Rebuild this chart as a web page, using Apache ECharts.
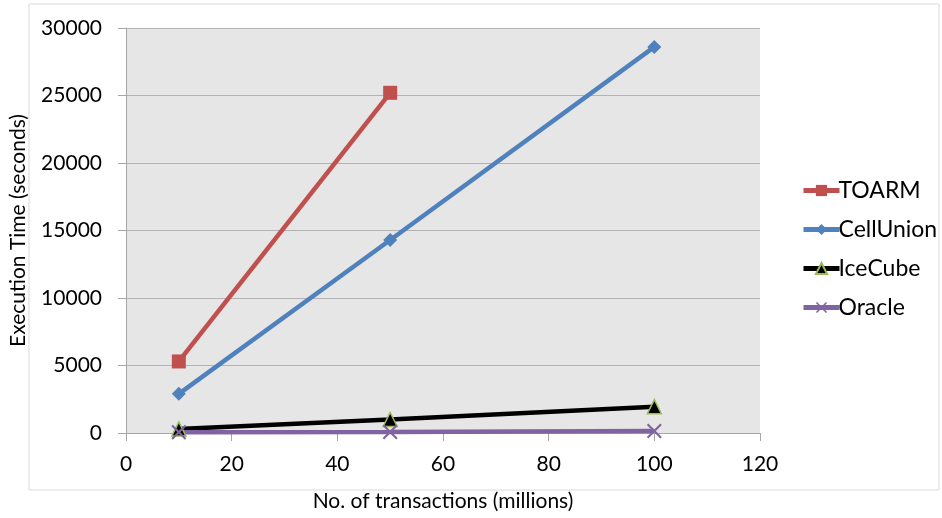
<!DOCTYPE html>
<html><head><meta charset="utf-8">
<script src="https://cdn.jsdelivr.net/npm/echarts@6/dist/echarts.min.js"></script>
<style>html,body{margin:0;padding:0;background:#fff}#c{width:942px;height:518px}</style>
</head><body><div id="c"></div>
<script>
const xValues = [10, 50, 100];
const toarm = [5300, 25200];
const cellUnion = [2900, 14300, 28600];
const iceCube = [300, 1000, 1950];
const oracle = [50, 80, 150];
const seriesNames = ['TOARM', 'CellUnion', 'IceCube', 'Oracle'];

const pairs = (vals) => vals.map((v, i) => [xValues[i], v]);
const font = 'Lato, "Open Sans", sans-serif';
const crossPath = 'path://M0,1L1,0L5,4L9,0L10,1L6,5L10,9L9,10L5,6L1,10L0,9L4,5Z';

const chart = echarts.init(document.getElementById('c'));
chart.setOption({
  animation: false,
  graphic: [{type:'rect', shape:{x:29,y:4,width:910,height:486}, style:{fill:'none', stroke:'#d9d9d9', lineWidth:1}, z:-10}],
  grid: {left:126, right:182, top:28, bottom:85, show:true, backgroundColor:'#e6e6e6', borderWidth:0, containLabel:false, outerBoundsMode:'none'},
  xAxis: {
    type:'value', min:0, max:120, interval:20,
    name:'No. of transactions (millions)', nameLocation:'middle', nameGap:58,
    nameTextStyle:{fontFamily:font, fontSize:21, color:'#000'},
    axisLine:{show:true, lineStyle:{color:'#a6a6a6', width:1}},
    axisTick:{show:true, length:8, lineStyle:{color:'#a6a6a6'}},
    axisLabel:{fontFamily:font, fontSize:21, color:'#000', margin:21},
    splitLine:{show:false}
  },
  yAxis: {
    type:'value', min:0, max:30000, interval:5000,
    name:'Execution Time (seconds)', nameLocation:'middle', nameGap:97,
    nameTextStyle:{fontFamily:font, fontSize:21, color:'#000'},
    axisLine:{show:true, lineStyle:{color:'#a6a6a6', width:1}},
    axisTick:{show:true, length:8, lineStyle:{color:'#a6a6a6'}},
    axisLabel:{fontFamily:font, fontSize:21, color:'#000', margin:24, formatter:(v)=>String(v)},
    splitLine:{show:true, lineStyle:{color:'#b3b3b3', width:1}}
  },
  legend: {
    orient:'vertical', left:796, top:174, itemGap:16, itemWidth:36, itemHeight:14,
    lineStyle:{width:5},
    textStyle:{fontFamily:font, fontSize:23, color:'#000', padding:[0,0,0,-6]},
    data: seriesNames
  },
  series: [
    {name:seriesNames[0], type:'line', data:pairs(toarm), symbol:'rect', symbolSize:14,
     lineStyle:{color:'#C0504D', width:4.5}, itemStyle:{color:'#C0504D'}},
    {name:seriesNames[1], type:'line', data:pairs(cellUnion), symbol:'diamond', symbolSize:14,
     lineStyle:{color:'#4F81BD', width:4.5}, itemStyle:{color:'#4F81BD'}},
    {name:seriesNames[2], type:'line', data:pairs(iceCube), symbol:'triangle', symbolSize:14,
     lineStyle:{color:'#000000', width:4.5}, itemStyle:{color:'#000000', borderColor:'#9BBB59', borderWidth:1.5}},
    {name:seriesNames[3], type:'line', data:pairs(oracle), symbol:crossPath, symbolSize:15,
     lineStyle:{color:'#8064A2', width:4.5}, itemStyle:{color:'#8064A2'}}
  ]
});
</script></body></html>
